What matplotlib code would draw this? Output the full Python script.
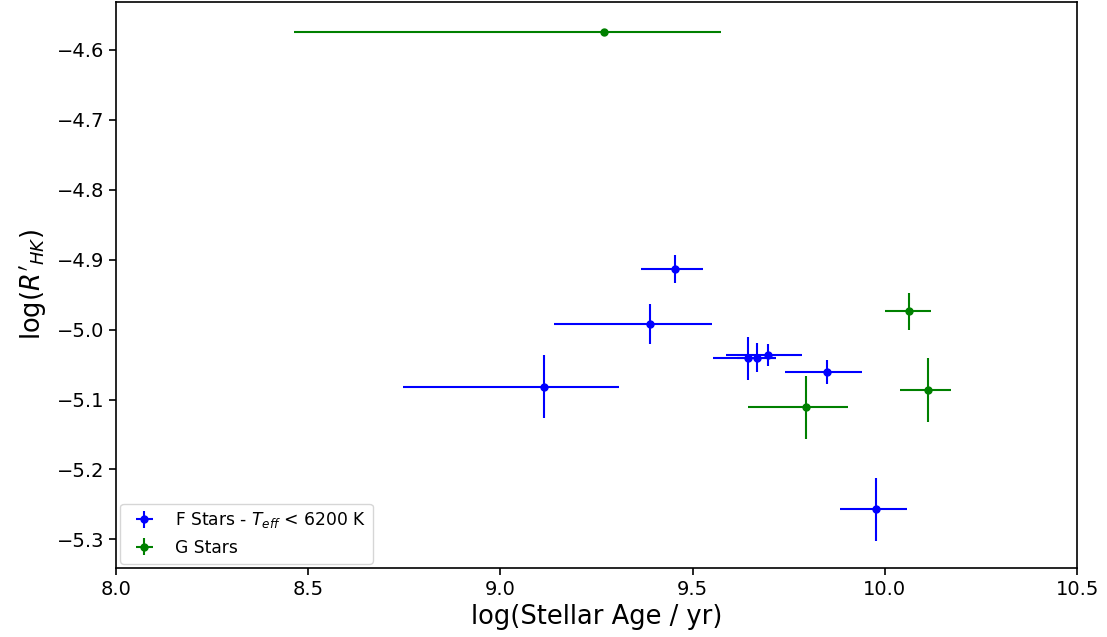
import matplotlib
matplotlib.use("Agg")
import matplotlib.pyplot as plt
import numpy as np

# F stars
f_age = [9.453, 9.390, 9.112, 9.643, 9.667, 9.695, 9.850, 9.977]
f_age_lo = [0.087, 0.252, 0.365, 0.089, 0.051, 0.108, 0.111, 0.095]
f_age_hi = [0.073, 0.160, 0.197, 0.074, 0.050, 0.089, 0.090, 0.080]
f_rhk = [-4.914, -4.992, -5.082, -5.041, -5.040, -5.036, -5.061, -5.257]
f_rhk_err = [0.020, 0.028, 0.045, 0.031, 0.021, 0.016, 0.017, 0.045]

# G stars
g_age = [9.270, 9.794, 10.064, 10.111]
g_age_lo = [0.806, 0.151, 0.065, 0.073]
g_age_hi = [0.303, 0.111, 0.056, 0.062]
g_rhk = [-4.575, -5.111, -4.974, -5.086]
g_rhk_err = [0.005, 0.045, 0.027, 0.046]

fig = plt.figure(figsize=(11.07, 6.37), dpi=100)
ax = fig.add_axes([0.1048, 0.1083, 0.973 - 0.1048, 0.997 - 0.1083])

ax.errorbar(f_age, f_rhk, xerr=[f_age_lo, f_age_hi], yerr=f_rhk_err,
            fmt='o', color='blue', ecolor='blue', markersize=5, elinewidth=1.5,
            capsize=0, label=r'F Stars - $T_{eff}$ < 6200 K')
ax.errorbar(g_age, g_rhk, xerr=[g_age_lo, g_age_hi], yerr=g_rhk_err,
            fmt='o', color='green', ecolor='green', markersize=5, elinewidth=1.5,
            capsize=0, label='G Stars')

ax.set_xlim(8.0, 10.5)
ax.set_ylim(-5.341, -4.5313)
ax.set_xticks([8.0, 8.5, 9.0, 9.5, 10.0, 10.5])
ax.set_yticks([-4.6, -4.7, -4.8, -4.9, -5.0, -5.1, -5.2, -5.3])
ax.tick_params(labelsize=14, width=1.2, length=5)
for s in ax.spines.values():
    s.set_linewidth(1.2)
ax.set_xlabel('log(Stellar Age / yr)', fontsize=18.5, labelpad=4)
ax.set_ylabel(r"log($R'_{HK}$)", fontsize=18.5, labelpad=6)
ax.legend(loc='lower left', fontsize=12.3, borderaxespad=0.25)

fig.savefig('out.png', dpi=100)
